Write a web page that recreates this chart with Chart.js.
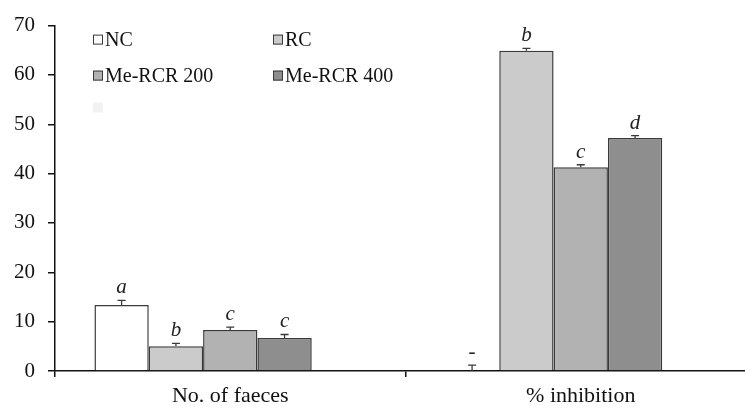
<!DOCTYPE html>
<html>
<head>
<meta charset="utf-8">
<script src="https://cdn.jsdelivr.net/npm/chart.js@4"></script>
<style>
  html, body { margin: 0; padding: 0; overflow: hidden; background: #fff; }
  #wrap { width: 756px; height: 408px; }
</style>
</head>
<body>
<div id="wrap"><canvas id="chart"></canvas></div>
<script>
// Data
const categories = ['No. of faeces', '% inhibition'];
const yTicks = [0, 10, 20, 30, 40, 50, 60, 70];

const ncValues = [13.4, 0];
const ncErrors = [0.9, 1.2];
const ncLetters = ['a', '-'];

const rcValues = [5.0, 64.9];
const rcErrors = [0.6, 0.5];
const rcLetters = ['b', 'b'];

const me200Values = [8.3, 41.3];
const me200Errors = [0.6, 0.5];
const me200Letters = ['c', 'c'];

const me400Values = [6.7, 47.2];
const me400Errors = [0.7, 0.5];
const me400Letters = ['c', 'd'];

const FONT = '"Liberation Serif", "Times New Roman", serif';
const EDGE = '#3a3a3a';

// Error bars + significance letters
const errorBarPlugin = {
  id: 'errorBars',
  afterDatasetsDraw(chart) {
    const ctx = chart.ctx;
    const y = chart.scales.y;
    chart.data.datasets.forEach((ds, i) => {
      if (!ds.errors) return;
      const meta = chart.getDatasetMeta(i);
      meta.data.forEach((bar, j) => {
        const v = ds.data[j];
        const top = y.getPixelForValue(v + ds.errors[j]);
        const base = y.getPixelForValue(v);
        ctx.save();
        ctx.strokeStyle = EDGE;
        ctx.lineWidth = 1.3;
        ctx.beginPath();
        ctx.moveTo(bar.x, base);
        ctx.lineTo(bar.x, top);
        ctx.moveTo(bar.x - 4, top);
        ctx.lineTo(bar.x + 4, top);
        ctx.stroke();
        const letter = ds.letters[j];
        ctx.fillStyle = '#222';
        ctx.textAlign = 'center';
        ctx.textBaseline = 'alphabetic';
        ctx.font = (letter === '-' ? '' : 'italic ') + '21px ' + FONT;
        ctx.fillText(letter, bar.x, top - 7);
        ctx.restore();
      });
    });
  }
};

// Legend drawn inside the plot area, two columns
const legendPlugin = {
  id: 'insideLegend',
  afterDraw(chart) {
    const ctx = chart.ctx;
    const area = chart.chartArea;
    const cols = [area.left + 38, area.left + 218];
    const rows = [area.top + 14, area.top + 50, area.top + 82];
    ctx.save();
    ctx.font = '20px ' + FONT;
    ctx.textBaseline = 'middle';
    ctx.textAlign = 'left';
    chart.data.datasets.forEach((ds, i) => {
      const x = cols[i % 2];
      const yc = rows[Math.floor(i / 2)];
      ctx.fillStyle = ds.backgroundColor;
      ctx.fillRect(x, yc - 5, 10, 10);
      if (ds.label) {
        ctx.strokeStyle = EDGE;
        ctx.lineWidth = 1;
        ctx.strokeRect(x + 0.5, yc - 4.5, 9, 9);
        ctx.fillStyle = '#111';
        ctx.fillText(ds.label, x + 12, yc + 1);
      }
    });
    ctx.restore();
  }
};

new Chart(document.getElementById('chart'), {
  type: 'bar',
  data: {
    labels: categories,
    datasets: [
      { label: 'NC', data: ncValues, errors: ncErrors, letters: ncLetters, backgroundColor: '#ffffff' },
      { label: 'RC', data: rcValues, errors: rcErrors, letters: rcLetters, backgroundColor: '#cbcbcb' },
      { label: 'Me-RCR 200', data: me200Values, errors: me200Errors, letters: me200Letters, backgroundColor: '#b2b2b2' },
      { label: 'Me-RCR 400', data: me400Values, errors: me400Errors, letters: me400Letters, backgroundColor: '#8e8e8e' },
      { label: '', data: [null, null], backgroundColor: '#f2f2f2' }
    ].map(ds => Object.assign(ds, {
      borderColor: EDGE,
      borderWidth: 1.5,
      categoryPercentage: 0.775,
      barPercentage: 1
    }))
  },
  options: {
    responsive: true,
    maintainAspectRatio: false,
    animation: false,
    layout: { padding: { top: 14, right: 0, left: 0, bottom: 0 } },
    plugins: {
      legend: { display: false },
      tooltip: { enabled: false }
    },
    scales: {
      x: {
        grid: { offset: true, drawOnChartArea: false, drawTicks: true, tickLength: 6, color: '#111', lineWidth: 1.5 },
        border: { color: '#111', width: 1.5 },
        ticks: { color: '#111', font: { family: FONT, size: 22 }, padding: 6 },
        afterFit(scale) { scale.height = 37; }
      },
      y: {
        min: 0,
        max: 70,
        afterBuildTicks(scale) { scale.ticks = yTicks.map(v => ({ value: v })); },
        grid: { drawOnChartArea: false, drawTicks: true, tickLength: 7, color: '#111', lineWidth: 1.5 },
        border: { color: '#111', width: 1.5 },
        ticks: { color: '#111', font: { family: FONT, size: 21 }, padding: 13 },
        afterFit(scale) { scale.width = 55; }
      }
    }
  },
  plugins: [errorBarPlugin, legendPlugin]
});
</script>
</body>
</html>
